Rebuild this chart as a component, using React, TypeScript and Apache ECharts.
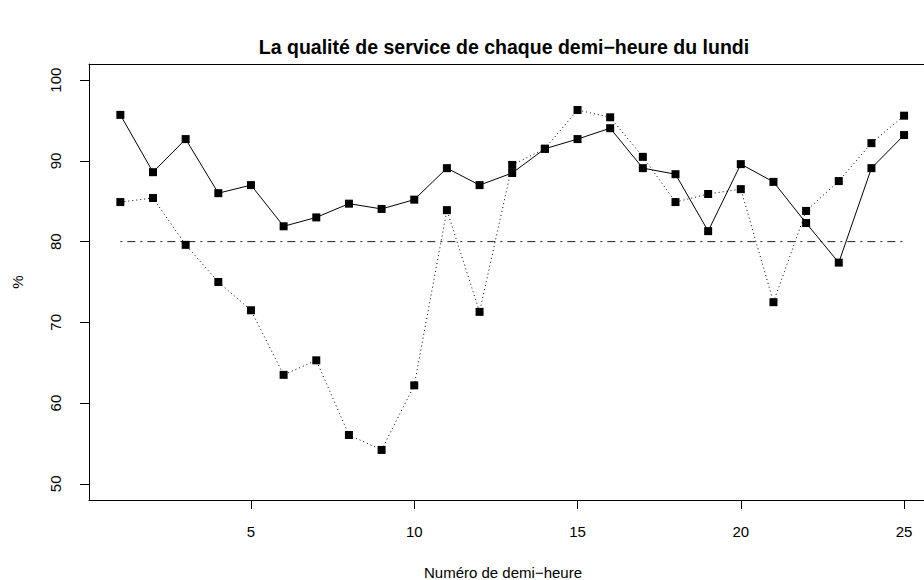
import React, { useEffect, useRef } from "react";
import * as echarts from "echarts";

const halfHours = [1, 2, 3, 4, 5, 6, 7, 8, 9, 10, 11, 12, 13, 14, 15, 16, 17, 18, 19, 20, 21, 22, 23, 24, 25];
const solidSeries = [95.7, 88.6, 92.7, 86.0, 87.0, 81.9, 83.0, 84.7, 84.05, 85.2, 89.1, 87.0, 88.5, 91.5, 92.7, 94.05, 89.1, 88.35, 81.3, 89.6, 87.4, 82.3, 77.4, 89.1, 93.2];
const dottedSeries = [84.9, 85.4, 79.6, 75.0, 71.5, 63.5, 65.3, 56.05, 54.2, 62.2, 83.9, 71.3, 89.5, 91.5, 96.3, 95.4, 90.5, 84.9, 85.9, 86.5, 72.5, 83.8, 87.5, 92.2, 95.6];
const thresholdValue = 80;
const xTickValues = [5, 10, 15, 20, 25];
const yTickValues = [50, 60, 70, 80, 90, 100];
const titleText = "La qualité de service de chaque demi−heure du lundi";
const xLabelText = "Numéro de demi−heure";
const yLabelText = "%";

const FONT = "'Liberation Sans', Arial, Helvetica, sans-serif";
const X_MIN = 0.04;
const X_MAX = 25.61;

export default function App() {
  const ref = useRef<HTMLDivElement>(null);
  useEffect(() => {
    if (!ref.current) return;
    const chart = echarts.init(ref.current, undefined, { renderer: "svg" });
    const solidData = halfHours.map((x, i) => [x, solidSeries[i]]);
    const dottedData = halfHours.map((x, i) => [x, dottedSeries[i]]);
    const thresholdData = [
      [halfHours[0], thresholdValue],
      [halfHours[halfHours.length - 1], thresholdValue],
    ];
    const axisLineStyle = { color: "#000000", width: 1 };
    chart.setOption({
      animation: false,
      backgroundColor: "#ffffff",
      textStyle: { fontFamily: FONT },
      grid: {
        left: 89,
        top: 64,
        right: 0,
        height: 436,
        show: false,
      },
      xAxis: [
        {
          type: "value",
          position: "bottom",
          min: X_MIN,
          max: X_MAX,
          axisLine: { show: true, onZero: false, lineStyle: axisLineStyle },
          splitLine: { show: false },
          axisTick: {
            show: true,
            length: 9,
            customValues: xTickValues,
            lineStyle: axisLineStyle,
          },
          axisLabel: {
            customValues: xTickValues,
            color: "#000000",
            fontSize: 15,
            fontFamily: FONT,
            margin: 24,
          },
        },
        {
          type: "value",
          position: "top",
          min: X_MIN,
          max: X_MAX,
          axisLine: { show: true, onZero: false, lineStyle: axisLineStyle },
          splitLine: { show: false },
          axisTick: { show: false },
          axisLabel: { show: false },
        },
      ],
      yAxis: {
        type: "value",
        min: 48,
        max: 102,
        axisLine: { show: true, onZero: false, lineStyle: axisLineStyle },
        splitLine: { show: false },
        axisTick: {
          show: true,
          length: 9,
          customValues: yTickValues,
          lineStyle: axisLineStyle,
        },
        axisLabel: {
          customValues: yTickValues,
          color: "#000000",
          fontSize: 15,
          fontFamily: FONT,
          rotate: 90,
          margin: 26,
        },
      },
      graphic: [
        {
          type: "text",
          x: 504,
          y: 47,
          style: {
            text: titleText,
            fontFamily: FONT,
            fontSize: 19.5,
            fontWeight: "bold",
            fill: "#000000",
            textAlign: "center",
            textVerticalAlign: "middle",
          },
        },
        {
          type: "text",
          x: 503,
          y: 572,
          style: {
            text: xLabelText,
            fontFamily: FONT,
            fontSize: 15,
            fill: "#000000",
            textAlign: "center",
            textVerticalAlign: "middle",
          },
        },
        {
          type: "text",
          x: 17,
          y: 282,
          rotation: Math.PI / 2,
          style: {
            text: yLabelText,
            fontFamily: FONT,
            fontSize: 15,
            fill: "#000000",
            textAlign: "center",
            textVerticalAlign: "middle",
          },
        },
      ],
      series: [
        {
          name: "seuil",
          type: "line",
          xAxisIndex: 0,
          data: thresholdData,
          symbol: "none",
          silent: true,
          lineStyle: { color: "#222222", width: 1, type: [2, 5, 8, 5] },
          z: 1,
        },
        {
          name: "pointillé",
          type: "line",
          xAxisIndex: 0,
          data: dottedData,
          symbol: "rect",
          symbolSize: 8,
          itemStyle: { color: "#000000" },
          lineStyle: { color: "#000000", width: 1, type: [1, 3] },
          z: 2,
        },
        {
          name: "plein",
          type: "line",
          xAxisIndex: 0,
          data: solidData,
          symbol: "rect",
          symbolSize: 8,
          itemStyle: { color: "#000000" },
          lineStyle: { color: "#000000", width: 1, type: "solid" },
          z: 3,
        },
      ],
    });
    return () => chart.dispose();
  }, []);
  return (
    <div
      ref={ref}
      style={{ position: "fixed", left: 0, top: 0, width: 924, height: 580 }}
    />
  );
}
